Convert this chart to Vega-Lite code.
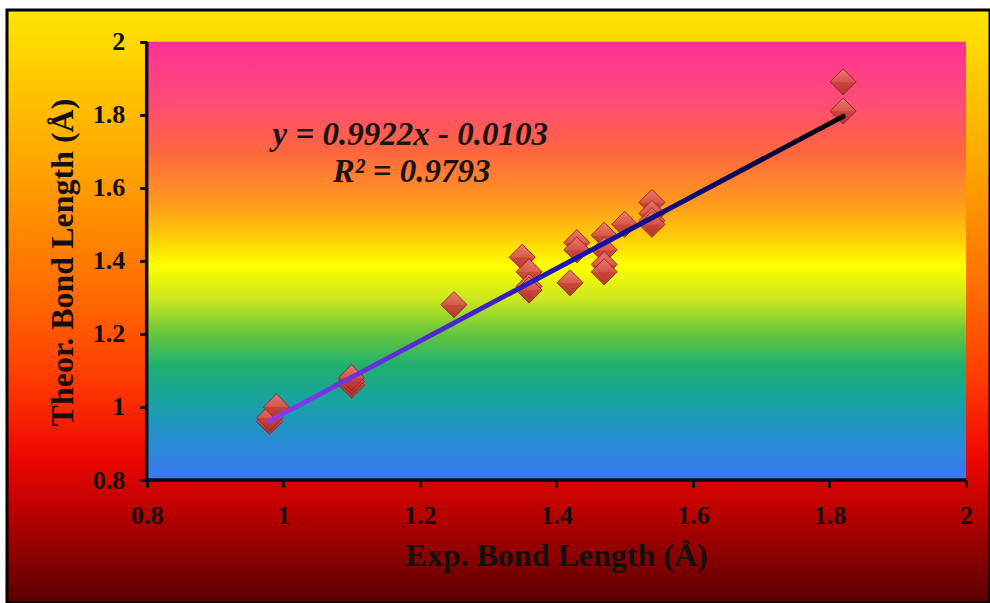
{
  "$schema": "https://vega.github.io/schema/vega-lite/v6.json",
  "width": 983,
  "height": 593,
  "padding": {"left": 7, "top": 10, "right": 0, "bottom": 0},
  "autosize": {"type": "none"},
  "background": "#ffffff",
  "view": {
    "fill": {
      "gradient": "linear", "x1": 0, "y1": 0, "x2": 0, "y2": 1,
      "stops": [
        {"offset": 0, "color": "#ffe600"},
        {"offset": 0.12, "color": "#ffc800"},
        {"offset": 0.25, "color": "#ffa800"},
        {"offset": 0.45, "color": "#ff7400"},
        {"offset": 0.62, "color": "#ff3c00"},
        {"offset": 0.75, "color": "#f00800"},
        {"offset": 0.85, "color": "#b80000"},
        {"offset": 1, "color": "#580000"}
      ]
    },
    "stroke": "#000000",
    "strokeWidth": 3
  },
  "data": {
    "values": [
      {"exp": 0.98, "theor": 0.96},
      {"exp": 0.98, "theor": 0.97},
      {"exp": 0.99, "theor": 1.00},
      {"exp": 1.10, "theor": 1.06},
      {"exp": 1.10, "theor": 1.07},
      {"exp": 1.10, "theor": 1.08},
      {"exp": 1.25, "theor": 1.28},
      {"exp": 1.35, "theor": 1.41},
      {"exp": 1.36, "theor": 1.37},
      {"exp": 1.36, "theor": 1.33},
      {"exp": 1.36, "theor": 1.32},
      {"exp": 1.42, "theor": 1.34},
      {"exp": 1.43, "theor": 1.45},
      {"exp": 1.43, "theor": 1.43},
      {"exp": 1.47, "theor": 1.47},
      {"exp": 1.47, "theor": 1.43},
      {"exp": 1.47, "theor": 1.39},
      {"exp": 1.47, "theor": 1.37},
      {"exp": 1.50, "theor": 1.50},
      {"exp": 1.54, "theor": 1.56},
      {"exp": 1.54, "theor": 1.53},
      {"exp": 1.54, "theor": 1.51},
      {"exp": 1.54, "theor": 1.50},
      {"exp": 1.82, "theor": 1.89},
      {"exp": 1.82, "theor": 1.81}
    ]
  },
  "layer": [
    {
      "data": {"values": [{}]},
      "mark": {
        "type": "rect",
        "fill": {
          "gradient": "linear", "x1": 0, "y1": 0, "x2": 0, "y2": 1,
          "stops": [
            {"offset": 0, "color": "#ff3096"},
            {"offset": 0.13, "color": "#ff4a78"},
            {"offset": 0.25, "color": "#ff6640"},
            {"offset": 0.37, "color": "#ff9a1e"},
            {"offset": 0.45, "color": "#ffcf05"},
            {"offset": 0.51, "color": "#ffff00"},
            {"offset": 0.59, "color": "#c8e620"},
            {"offset": 0.66, "color": "#6cc83a"},
            {"offset": 0.74, "color": "#1eb070"},
            {"offset": 0.83, "color": "#18a0a8"},
            {"offset": 0.92, "color": "#2a8ad8"},
            {"offset": 1, "color": "#3a76f0"}
          ]
        }
      },
      "encoding": {
        "x": {"datum": 0.8, "type": "quantitative", "scale": {"domain": [0.5954, 2.0351], "nice": false, "zero": false}},
        "x2": {"datum": 2},
        "y": {"datum": 0.8, "type": "quantitative", "scale": {"domain": [0.4633, 2.0868], "nice": false, "zero": false}},
        "y2": {"datum": 2}
      }
    },
    {
      "mark": {
        "type": "point",
        "shape": "diamond",
        "filled": true,
        "size": 680,
        "fill": {
          "gradient": "linear", "x1": 0, "y1": 0, "x2": 0, "y2": 1,
          "stops": [
            {"offset": 0, "color": "#ea7a6e"},
            {"offset": 0.5, "color": "#d9544c"},
            {"offset": 0.52, "color": "#c8433b"},
            {"offset": 1, "color": "#b0322c"}
          ]
        },
        "stroke": "#8f2a24",
        "strokeWidth": 1,
        "opacity": 0.95
      },
      "encoding": {
        "x": {
          "field": "exp", "type": "quantitative",
          "scale": {"domain": [0.5954, 2.0351], "nice": false, "zero": false},
          "axis": {
            "title": "Exp. Bond Length (Å)",
            "values": [0.8, 1, 1.2, 1.4, 1.6, 1.8, 2],
            "format": "~g",
            "offset": -123,
            "titleX": 549,
            "titleY": 85,
            "titleAlign": "center",
            "titleBaseline": "alphabetic"
          }
        },
        "y": {
          "field": "theor", "type": "quantitative",
          "scale": {"domain": [0.4633, 2.0868], "nice": false, "zero": false},
          "axis": {
            "title": "Theor. Bond Length (Å)",
            "values": [0.8, 1, 1.2, 1.4, 1.6, 1.8, 2],
            "format": "~g",
            "offset": -139.7,
            "titleX": -74,
            "titleY": 252,
            "titleAngle": 270,
            "titleAlign": "center",
            "titleBaseline": "alphabetic"
          }
        }
      }
    },
    {
      "data": {"values": [{"exp": 0.98, "theor": 0.962}, {"exp": 1.82, "theor": 1.7955}]},
      "mark": {
        "type": "line",
        "strokeWidth": 5,
        "strokeCap": "round",
        "stroke": {
          "gradient": "linear", "x1": 0, "y1": 0, "x2": 1, "y2": 0,
          "stops": [
            {"offset": 0, "color": "#8a3cf0"},
            {"offset": 0.3, "color": "#5028d0"},
            {"offset": 0.55, "color": "#1414a8"},
            {"offset": 0.8, "color": "#0a0a60"},
            {"offset": 1, "color": "#000000"}
          ]
        }
      },
      "encoding": {
        "x": {"field": "exp", "type": "quantitative"},
        "y": {"field": "theor", "type": "quantitative"}
      }
    },
    {
      "data": {"values": [{}]},
      "mark": {"type": "rule", "color": "#0a0a14", "strokeWidth": 3.5},
      "encoding": {
        "x": {"datum": 0.8, "type": "quantitative"},
        "y": {"datum": 0.8, "type": "quantitative"},
        "y2": {"datum": 2}
      }
    },
    {
      "data": {"values": [{}]},
      "mark": {"type": "rule", "color": "#0a0a14", "strokeWidth": 3.5},
      "encoding": {
        "x": {"datum": 0.8, "type": "quantitative"},
        "x2": {"datum": 2},
        "y": {"datum": 0.8, "type": "quantitative"}
      }
    },
    {
      "data": {"values": [{}]},
      "mark": {"type": "text", "text": "y = 0.9922x - 0.0103", "font": "Liberation Serif", "fontWeight": "bold", "fontStyle": "italic", "fontSize": 33, "color": "#1a1414", "align": "center", "baseline": "alphabetic"},
      "encoding": {
        "x": {"datum": 1.186, "type": "quantitative"},
        "y": {"datum": 1.717, "type": "quantitative"}
      }
    },
    {
      "data": {"values": [{}]},
      "mark": {"type": "text", "text": "R² = 0.9793", "font": "Liberation Serif", "fontWeight": "bold", "fontStyle": "italic", "fontSize": 33, "color": "#1a1414", "align": "center", "baseline": "alphabetic"},
      "encoding": {
        "x": {"datum": 1.188, "type": "quantitative"},
        "y": {"datum": 1.616, "type": "quantitative"}
      }
    }
  ],
  "config": {
    "axis": {
      "domain": false,
      "grid": false,
      "labelFont": "Liberation Serif",
      "labelFontWeight": "bold",
      "labelFontSize": 26,
      "labelColor": "#141010",
      "labelPadding": 15,
      "labelFlush": false,
      "labelOverlap": false,
      "tickColor": "#0a0a14",
      "tickWidth": 3,
      "tickSize": 7,
      "titleFont": "Liberation Serif",
      "titleFontWeight": "bold",
      "titleFontSize": 32,
      "titleColor": "#141010"
    }
  }
}
